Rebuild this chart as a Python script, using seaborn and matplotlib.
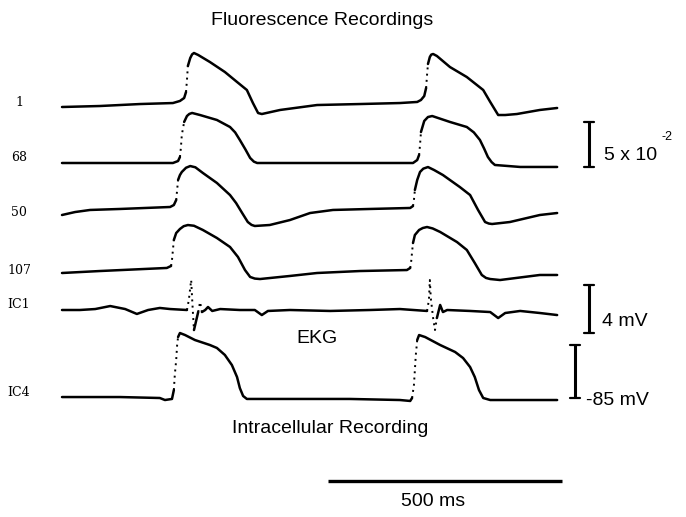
import numpy as np
import pandas as pd
import matplotlib
matplotlib.use("Agg")
import matplotlib.pyplot as plt
import seaborn as sns

# ---------------- data (time in ms; fluorescence in 1e-2 dF/F; electrical in mV)
t_f1 = [0, 81, 167, 237, 252, 261, 265, 267, 269, 274, 278, 282, 291, 316, 348, 374, 395, 408, 419, 427, 466, 545, 637, 722, 759, 767, 774, 778, 780, 782, 786, 789, 793, 801, 829, 865, 900, 915, 932, 947, 972, 1021, 1058]
v_f1 = [0, 0.11, 0.33, 0.44, 0.67, 1.0, 1.67, 3.0, 4.56, 5.44, 5.85, 6.0, 5.78, 5.0, 3.89, 2.78, 1.89, 0.44, -0.67, -0.78, -0.33, 0.22, 0.33, 0.44, 0.56, 0.78, 1.22, 2.11, 3.56, 4.78, 5.56, 5.82, 5.89, 5.67, 4.44, 3.33, 1.89, 0.56, -0.89, -0.89, -0.78, -0.33, -0.11]

t_f68 = [0, 124, 237, 248, 252, 254, 256, 261, 267, 272, 278, 295, 331, 359, 370, 380, 392, 402, 410, 417, 509, 615, 750, 759, 763, 765, 767, 774, 782, 791, 829, 865, 880, 893, 902, 910, 918, 925, 979, 1058]
v_f68 = [0, 0, 0, 0.22, 0.67, 1.67, 3.11, 4.56, 5.22, 5.45, 5.56, 5.33, 4.78, 4.0, 3.4, 2.56, 1.5, 0.56, 0.15, 0, 0, 0, 0, 0.33, 0.89, 2.0, 3.44, 4.67, 5.11, 5.22, 4.56, 4.0, 3.4, 2.56, 1.6, 0.67, 0.1, -0.22, -0.44, -0.44]

t_f50 = [0, 28, 60, 124, 231, 239, 244, 246, 248, 252, 256, 265, 274, 285, 301, 331, 359, 372, 385, 397, 405, 412, 444, 487, 530, 579, 658, 744, 750, 752, 754, 759, 765, 772, 782, 795, 814, 850, 872, 889, 904, 912, 919, 957, 1021, 1058]
v_f50 = [0, 0.33, 0.56, 0.67, 0.89, 1.11, 1.67, 2.78, 3.89, 4.44, 4.78, 5.25, 5.44, 5.3, 4.67, 3.56, 2.22, 1.33, 0.22, -0.78, -1.1, -1.22, -1.11, -0.56, 0.22, 0.56, 0.67, 0.78, 1.0, 1.67, 2.78, 3.89, 4.78, 5.15, 5.33, 5.0, 4.44, 3.11, 2.22, 0.56, -0.78, -0.95, -1.0, -0.78, 0, 0.22]

t_f107 = [0, 81, 224, 233, 235, 237, 239, 244, 252, 260, 269, 282, 301, 331, 359, 376, 391, 402, 412, 423, 487, 545, 637, 737, 744, 746, 748, 750, 754, 763, 771, 780, 792, 808, 844, 865, 882, 897, 906, 915, 936, 1021, 1058]
v_f107 = [0, 0.22, 0.56, 0.78, 1.44, 2.56, 3.67, 4.44, 4.89, 5.2, 5.33, 5.25, 4.78, 3.89, 2.89, 1.78, 0.33, -0.44, -0.62, -0.67, -0.33, 0, 0.22, 0.33, 0.56, 1.22, 2.33, 3.33, 4.22, 4.78, 5.0, 5.11, 4.95, 4.56, 3.44, 2.56, 1.11, -0.22, -0.55, -0.67, -0.78, -0.22, -0.22]

t_ic1 = [0, 38, 71, 103, 135, 160, 184, 209, 231, 267, 271, 276, 278, 280, 282, 286, 291, 295, 299, 306, 312, 321, 338, 380, 412, 427, 440, 487, 573, 658, 722, 780, 784, 786, 788, 793, 797, 801, 808, 814, 823, 872, 915, 932, 947, 979, 1021, 1058]
v_ic1 = [0, 0, 0.08, 0.33, 0.08, -0.33, 0, 0.17, 0.08, 0, 0.83, 2.5, 1.0, -0.42, -1.67, -1.0, -0.17, 0.67, -0.17, 0, 0.25, -0.08, 0.08, 0, 0, -0.42, -0.08, 0, -0.08, 0, 0.08, -0.08, 0.83, 2.5, 1.0, -0.67, -1.67, -0.67, 0.42, -0.17, 0, -0.08, -0.17, -0.67, -0.25, -0.08, -0.25, -0.42]

t_ic4 = [0, 124, 209, 220, 235, 239, 241, 244, 246, 248, 252, 263, 284, 316, 331, 348, 363, 374, 380, 387, 395, 423, 509, 615, 722, 744, 748, 752, 754, 756, 759, 763, 776, 808, 840, 857, 872, 882, 891, 900, 915, 979, 1058]
v_ic4 = [-84.1, -84.1, -85.0, -86.9, -85.9, -77.5, -63.3, -49.2, -35.0, -27.5, -23.7, -25.6, -30.3, -35.0, -37.8, -44.4, -53.9, -65.2, -75.6, -83.1, -85.9, -85.9, -85.9, -85.9, -86.9, -87.8, -85.0, -72.7, -58.6, -44.4, -30.3, -25.6, -27.5, -35.0, -41.6, -47.3, -55.8, -65.2, -77.5, -85.0, -86.9, -86.9, -86.9]

trace_labels = ["1", "68", "50", "107", "IC1", "IC4"]

scale_time_ms = 500
scale_fluo = 5      # x 1e-2
scale_ic1_mv = 4
scale_ic4_mv = 50
ic4_rest_mv = -85

# ---------------- layout (pixels of a 686 x 517 canvas)
W, H = 686, 517
PX_PER_MS = 0.468
X0 = 62
FLUO_GAIN = 9.0      # px per 1e-2
IC1_GAIN = 12.0      # px per mV
IC4_GAIN = 1.06      # px per mV

traces = [
    (t_f1, v_f1, 107, FLUO_GAIN, 0),
    (t_f68, v_f68, 163, FLUO_GAIN, 0),
    (t_f50, v_f50, 215, FLUO_GAIN, 0),
    (t_f107, v_f107, 273, FLUO_GAIN, 0),
    (t_ic1, v_ic1, 310, IC1_GAIN, 0),
    (t_ic4, v_ic4, 398, IC4_GAIN, ic4_rest_mv),
]
label_y = [102, 158, 212, 270, 305, 393]

sns.set_theme(style="white")
plt.rcParams["font.family"] = ["Liberation Sans", "DejaVu Sans"]

fig = plt.figure(figsize=(W / 100, H / 100), dpi=100)
fig.patch.set_facecolor("white")
ax = fig.add_axes([0, 0, 1, 1])
ax.set_xlim(-X0 / PX_PER_MS, (W - X0) / PX_PER_MS)
ax.set_ylim(H, 0)
ax.axis("off")

recs = []
run = 0
for t, v, off, gain, ref in traces:
    t = np.asarray(t, float)
    v = np.asarray(v, float)
    y = off - (v - ref) * gain
    slope = np.abs(np.diff(y)) / (np.diff(t) * PX_PER_MS)
    kinds = np.where(slope > 5.0, "fast", "slow")
    start = 0
    for i in range(1, len(kinds) + 1):
        if i == len(kinds) or kinds[i] != kinds[start]:
            for j in range(start, i + 1):
                recs.append((run, kinds[start], t[j], y[j]))
            run += 1
            start = i
df = pd.DataFrame(recs, columns=["run", "kind", "t", "y"])

sns.lineplot(data=df, x="t", y="y", units="run", estimator=None,
             style="kind", dashes={"slow": "", "fast": (1, 2.2)},
             size="kind", sizes={"slow": 1.8, "fast": 1.4},
             color="black", sort=False, legend=False, ax=ax)

# ---------------- scale bars
def ms(px):
    return (px - X0) / PX_PER_MS

cap = 5 / PX_PER_MS
bars = [
    (ms(589), 167, scale_fluo * FLUO_GAIN),
    (ms(589), 333, scale_ic1_mv * IC1_GAIN),
    (ms(575), 398, scale_ic4_mv * IC4_GAIN),
]
for bx, by, blen in bars:
    ax.plot([bx, bx], [by, by - blen], color="black", lw=2.2, solid_capstyle="butt")
    ax.plot([bx - cap, bx + cap], [by, by], color="black", lw=1.6)
    ax.plot([bx - cap, bx + cap], [by - blen, by - blen], color="black", lw=1.6)

tb0 = ms(328)
ax.plot([tb0, tb0 + scale_time_ms], [481, 481], color="black", lw=2.4, solid_capstyle="butt")

# ---------------- text
def ft(x, y, s, **kw):
    fig.text(x / W, 1 - y / H, s, color="black", **kw)

for lab, ly in zip(trace_labels, label_y):
    ft(19, ly, lab, ha="center", va="center", fontsize=9, family="DejaVu Serif")

ft(322, 25, "Fluorescence Recordings", ha="center", va="baseline", fontsize=14)
ft(330, 433, "Intracellular Recording", ha="center", va="baseline", fontsize=14)
ft(317, 343, "EKG", ha="center", va="baseline", fontsize=14)
ft(433, 506, "500 ms", ha="center", va="baseline", fontsize=14)
ft(604, 160, "5 x 10", ha="left", va="baseline", fontsize=14)
ft(662, 140, "-2", ha="left", va="baseline", fontsize=9)
ft(602, 326, "4 mV", ha="left", va="baseline", fontsize=14)
ft(586, 405, "-85 mV", ha="left", va="baseline", fontsize=14)

fig.savefig("out.png", dpi=100, facecolor="white")
